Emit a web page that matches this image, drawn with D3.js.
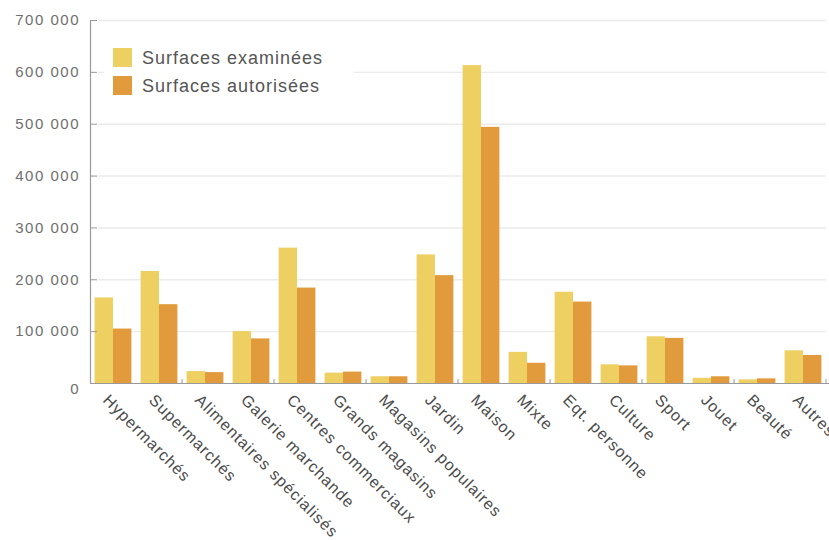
<!DOCTYPE html>
<html>
<head>
<meta charset="utf-8">
<script src="https://cdn.jsdelivr.net/npm/d3@7/dist/d3.min.js"></script>
<style>
  html, body { margin: 0; padding: 0; background: #fff; }
  svg { display: block; }
</style>
</head>
<body>
<svg id="chart" width="829" height="540"></svg>
<script>
// Surfaces commerciales par secteur (m²)
const categories = [
  "Hypermarchés", "Supermarchés", "Alimentaires spécialisés", "Galerie marchande",
  "Centres commerciaux", "Grands magasins", "Magasins populaires", "Jardin",
  "Maison", "Mixte", "Eqt. personne", "Culture", "Sport", "Jouet", "Beauté", "Autres"
];
const seriesNames = ["Surfaces examinées", "Surfaces autorisées"];
const examinees = [165000, 216000, 23000, 100000, 261000, 20000, 13000, 248000,
                   613000, 60000, 176000, 36000, 90000, 10000, 7000, 63000];
const autorisees = [105000, 152000, 21000, 86000, 184000, 22000, 13000, 208000,
                    494000, 39000, 157000, 34000, 87000, 13000, 9000, 54000];
const yTicks = [0, 100000, 200000, 300000, 400000, 500000, 600000, 700000];
const colors = ["#edcf62", "#e29b3c"];

const svg = d3.select("#chart");
const margin = { left: 90, right: 3, top: 20, bottom: 157 };
const W = 829, H = 540;
const plotBottom = H - margin.bottom;   // 383

const x0 = d3.scaleBand()
  .domain(d3.range(categories.length))
  .range([margin.left, margin.left + 46 * categories.length])
  .paddingInner(0).paddingOuter(0);

const x1 = d3.scaleBand()
  .domain(seriesNames)
  .range([0, x0.bandwidth()])
  .paddingInner(0).paddingOuter(0.25);

const y = d3.scaleLinear()
  .domain([0, 700000])
  .range([plotBottom, margin.top]);

const fmt = v => d3.format(",")(v).replace(/,/g, " ");

// Grid lines
svg.append("g")
  .selectAll("line")
  .data(yTicks.filter(d => d > 0))
  .join("line")
  .attr("x1", margin.left + 8)
  .attr("x2", x0.range()[1])
  .attr("y1", d => y(d) + 0.5)
  .attr("y2", d => y(d) + 0.5)
  .attr("stroke", "#ebebeb")
  .attr("stroke-width", 1.4);

// Bars
const data = categories.map((c, i) => ({ i, values: [examinees[i], autorisees[i]] }));
const groups = svg.append("g")
  .selectAll("g")
  .data(data)
  .join("g")
  .attr("transform", d => `translate(${x0(d.i)},0)`);

groups.selectAll("rect")
  .data(d => d.values.map((v, k) => ({ k, v })))
  .join("rect")
  .attr("x", d => x1(seriesNames[d.k]))
  .attr("width", x1.bandwidth())
  .attr("y", d => y(d.v))
  .attr("height", d => y(0) - y(d.v))
  .attr("fill", d => colors[d.k]);

// Y axis
const yAxis = d3.axisLeft(y)
  .tickValues(yTicks)
  .tickSize(-7)
  .tickPadding(10)
  .tickFormat(fmt);

const gy = svg.append("g")
  .attr("transform", `translate(${margin.left},0)`)
  .call(yAxis);
gy.select(".domain").attr("stroke", "#999").attr("stroke-width", 1.2);
gy.selectAll(".tick line").attr("stroke", "#999");
gy.selectAll(".tick text")
  .attr("fill", "#6f6f6f")
  .style("font-family", "'Liberation Sans', Arial, sans-serif")
  .style("font-size", "15px")
  .style("letter-spacing", "1.5px");
gy.selectAll(".tick").filter(d => d === 0).select("text").attr("dy", "0.7em");

// X axis baseline and ticks every two categories
svg.append("line")
  .attr("x1", margin.left).attr("x2", W)
  .attr("y1", plotBottom + 0.5).attr("y2", plotBottom + 0.5)
  .attr("stroke", "#999").attr("stroke-width", 1.2);

svg.append("g")
  .selectAll("line")
  .data(d3.range(2, categories.length + 1, 2))
  .join("line")
  .attr("x1", i => margin.left + i * x0.step())
  .attr("x2", i => margin.left + i * x0.step())
  .attr("y1", plotBottom - 4)
  .attr("y2", plotBottom)
  .attr("stroke", "#999");

// Category labels, rotated
svg.append("g")
  .selectAll("text")
  .data(categories)
  .join("text")
  .attr("transform", (d, i) => `translate(${x0(i) + x0.bandwidth() / 2 - 3},${plotBottom + 10}) rotate(45)`)
  .attr("dy", "0.7em")
  .attr("text-anchor", "start")
  .attr("fill", "#4a4a4a")
  .style("font-family", "'Liberation Sans', Arial, sans-serif")
  .style("font-size", "16px")
  .style("letter-spacing", "1px")
  .text(d => d);

// Legend
const legend = svg.append("g").attr("transform", "translate(104,28)");
legend.append("rect")
  .attr("width", 250).attr("height", 80)
  .attr("fill", "#fff");
seriesNames.forEach((name, k) => {
  const row = legend.append("g").attr("transform", `translate(9,${20 + k * 28})`);
  row.append("rect")
    .attr("width", 19).attr("height", 19)
    .attr("fill", colors[k]);
  row.append("text")
    .attr("x", 29).attr("y", 16)
    .attr("fill", "#555")
    .style("font-family", "'Liberation Sans', Arial, sans-serif")
    .style("font-size", "18px")
    .style("letter-spacing", "1px")
    .text(name);
});
</script>
</body>
</html>
